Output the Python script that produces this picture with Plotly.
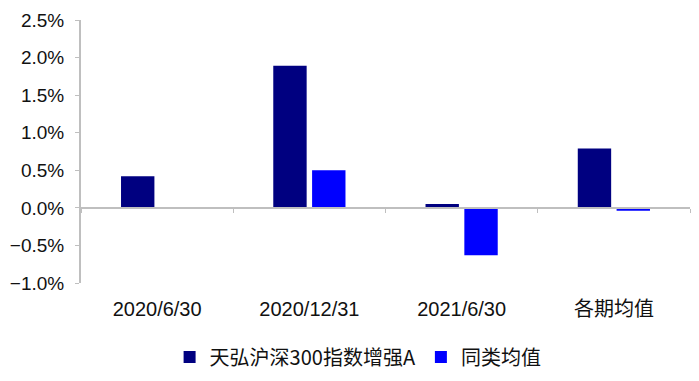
import plotly.graph_objects as go

categories = ["2020/6/30", "2020/12/31", "2021/6/30", "各期均值"]
fund_name = "天弘沪深300指数增强A"
peer_name = "同类均值"
fund_values = [0.42, 1.89, 0.05, 0.79]
peer_values = [None, 0.50, -0.63, -0.04]

font_family = "Liberation Sans, Arial, Noto Sans CJK SC, sans-serif"
y_min, y_max = -1.0, 2.5
zero_pos = (0 - y_min) / (y_max - y_min)

fig = go.Figure()
fig.add_trace(go.Bar(name=fund_name, x=categories, y=fund_values,
                     marker=dict(color="#000080", line=dict(width=0))))
fig.add_trace(go.Bar(name=peer_name, x=categories, y=peer_values,
                     marker=dict(color="#0000FF", line=dict(width=0))))
# invisible trace carrying the bottom category labels
fig.add_trace(go.Scatter(x=categories, y=[None] * len(categories), xaxis="x2",
                         mode="markers", showlegend=False, hoverinfo="skip"))

fig.update_layout(
    width=699, height=381,
    margin=dict(l=81, r=9, t=20, b=98),
    paper_bgcolor="white", plot_bgcolor="white",
    barmode="group", bargap=0.49, bargroupgap=0.14,
    font=dict(family=font_family, size=19, color="#000000"),
    xaxis=dict(type="category", anchor="free", position=zero_pos,
               showline=True, linecolor="#BFBFBF", linewidth=2,
               ticks="outside", ticklen=4, tickcolor="#BFBFBF",
               tickson="boundaries", showticklabels=False, showgrid=False,
               zeroline=False),
    xaxis2=dict(type="category", overlaying="x", matches="x", anchor="free",
                position=0, showline=False, ticks="", showgrid=False,
                tickfont=dict(size=20, family=font_family, color="#111111"),
                ticklabelstandoff=12),
    yaxis=dict(range=[y_min, y_max], dtick=0.5, tickformat=".1f", ticksuffix="%",
               showline=True, linecolor="#BFBFBF", linewidth=2,
               ticks="outside", ticklen=4, tickcolor="#BFBFBF",
               showgrid=False, zeroline=False,
               tickfont=dict(size=19, family=font_family, color="#111111"),
               ticklabelstandoff=7),
    legend=dict(orientation="h", x=0.455, xanchor="center",
                yref="container", y=0.063, yanchor="middle",
                font=dict(size=20, family="Noto Sans CJK SC, Liberation Sans, sans-serif",
                          color="#111111"),
                itemwidth=30, tracegroupgap=0),
)

fig.write_html("out.html")
